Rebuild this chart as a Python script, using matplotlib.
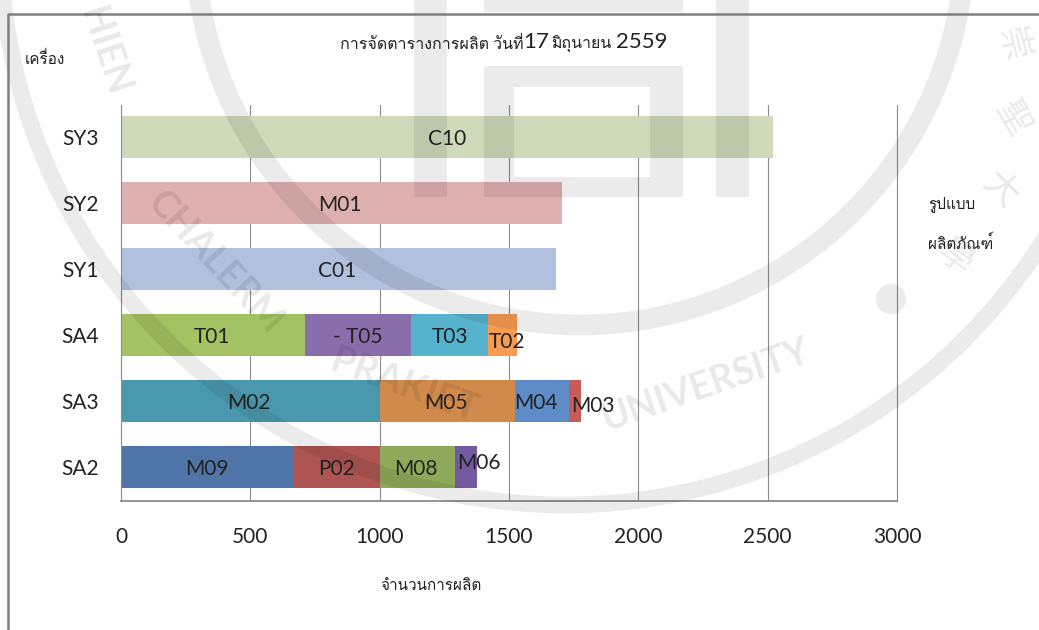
import matplotlib
matplotlib.use('Agg')
import matplotlib.pyplot as plt
from matplotlib import font_manager as fm
from matplotlib.patches import Circle, Rectangle

W, H = 1039, 630

# look for a family that has thai glyphs
thai_test = 'การจัดตาราง'
thai_fonts = []
for f in fm.fontManager.ttflist:
    try:
        cmap = fm.get_font(f.fname).get_charmap()
    except Exception:
        continue
    if all(ord(c) in cmap for c in thai_test) and f.name not in thai_fonts:
        thai_fonts.append(f.name)
plt.rcParams['font.family'] = ['Lato'] + thai_fonts + ['DejaVu Sans']

machines = ['SA2', 'SA3', 'SA4', 'SY1', 'SY2', 'SY3']
jobs = [
    ['M09', 'P02', 'M08', 'M06'],
    ['M02', 'M05', 'M04', 'M03'],
    ['T01', '- T05', 'T03', 'T02'],
    ['C01'],
    ['M01'],
    ['C10'],
]
quantities = [
    [670, 330, 291, 85],
    [1000, 523, 208, 47],
    [713, 408, 298, 112],
    [1680],
    [1705],
    [2522],
]
colors = [
    ['#4f75a8', '#ae5553', '#8fa95a', '#7259a0'],
    ['#4a98ae', '#d08a4c', '#5d8cc8', '#c85c5a'],
    ['#a4c263', '#8a6dab', '#57b2cd', '#f79c50'],
    ['#b0c0dd'],
    ['#dfb0b0'],
    ['#cedaba'],
]

fig = plt.figure(figsize=(W / 100, H / 100), dpi=100)
ax = fig.add_axes([121 / W, 1 - 501 / H, (897 - 121) / W, (501 - 105) / H])
ax.set_xlim(0, 3000)
ax.set_ylim(-0.51, 5.49)

for i, name in enumerate(machines):
    left = 0
    for job, qty, col in zip(jobs[i], quantities[i], colors[i]):
        ax.barh(i, qty, left=left, height=0.64, color=col, zorder=2)
        left += qty

ax.set_yticks(range(len(machines)))
ax.set_yticklabels(machines, fontsize=15, color='#222222')
ax.set_xticks(range(0, 3001, 500))
ax.tick_params(axis='x', labelsize=15, length=0, pad=19, colors='#222222')
ax.tick_params(axis='y', length=0, pad=16)
ax.grid(axis='x', color='#8c8c8c', lw=0.8, zorder=1)
ax.set_axisbelow(True)
ax.spines['top'].set_visible(False)
for s in ['left', 'right', 'bottom']:
    ax.spines[s].set_color('#8c8c8c')
    ax.spines[s].set_linewidth(0.8)
ax.spines['bottom'].set_linewidth(1.3)

# job labels, some sit off-centre as in the original
label_x = [
    [332, 832, 1140, 1385],
    [495, 1255, 1603, 1826],
    [352, 915, 1270, 1492],
    [837], [848], [1262],
]
label_dy = [
    [0, 0, 0, 0.08],
    [0, 0, 0, -0.05],
    [0, 0, 0, -0.08],
    [0], [0], [0],
]
for i in range(len(machines)):
    for job, x, dy in zip(jobs[i], label_x[i], label_dy[i]):
        ax.text(x, i + dy - 0.02, job, ha='center', va='center', fontsize=15,
                color='#222222', zorder=3)

# watermark and page frame, in pixel coordinates, over the chart
page = fig.add_axes([0, 0, 1, 1], zorder=5)
page.set_xlim(0, W)
page.set_ylim(H, 0)
page.axis('off')

wm = dict(color='black', alpha=0.08, lw=0)
page.add_patch(Circle((565, -60), 565, fc='none', ec='black', alpha=0.08, lw=12))
page.add_patch(Circle((580, -60), 385, fc='none', ec='black', alpha=0.08, lw=15))
page.add_patch(Rectangle((414, 0), 33, 197, **wm))
page.add_patch(Rectangle((716, 0), 33, 197, **wm))
page.add_patch(Rectangle((484, 66), 199, 21, **wm))
page.add_patch(Rectangle((484, 177), 199, 20, **wm))
page.add_patch(Rectangle((484, 87), 30, 90, **wm))
page.add_patch(Rectangle((650, 87), 33, 90, **wm))
page.add_patch(Rectangle((484, 0), 199, 12, **wm))
page.add_patch(Circle((891, 299), 15, **wm))

wm_text = dict(color='black', alpha=0.09, fontsize=27, ha='center', va='center',
               fontweight='bold')
page.text(104, 52, 'HIEN', rotation=-72, **wm_text)
page.text(215, 262, 'CHALERM', rotation=-47, **wm_text)
page.text(404, 386, 'PRAKIET', rotation=-20, **wm_text)
page.text(706, 385, 'UNIVERSITY', rotation=19, **wm_text)
cjk = dict(color='black', alpha=0.09, fontsize=25, ha='center', va='center',
           family=['Noto Sans CJK TC', 'DejaVu Sans'])
page.text(1012, 45, '崇', rotation=-75, **cjk)
page.text(1012, 118, '聖', rotation=-60, **cjk)
page.text(1000, 190, '大', rotation=-45, **cjk)
page.text(955, 258, '學', rotation=-35, **cjk)

page.plot([8, 8, W], [H, 14, 14], color='#7f7f7f', lw=1.8)

dark = '#222222'
page.text(340, 44, 'การจัดตารางการผลิต วันที่', ha='left', va='center', fontsize=11.5, color=dark)
page.text(523, 42, '17', ha='left', va='center', fontsize=16, color=dark)
page.text(551, 44, 'มิถุนายน', ha='left', va='center', fontsize=11.5, color=dark)
page.text(616, 42, '2559', ha='left', va='center', fontsize=16, color=dark)
page.text(45, 59, 'เครื่อง', ha='center', va='center', fontsize=11, color=dark)
page.text(431, 586, 'จำนวนการผลิต', ha='center', va='center', fontsize=11, color=dark)
page.text(928, 204, 'รูปแบบ', ha='left', va='center', fontsize=11, color=dark)
page.text(928, 243, 'ผลิตภัณฑ์', ha='left', va='center', fontsize=11, color=dark)

fig.savefig('out.png', dpi=100)
